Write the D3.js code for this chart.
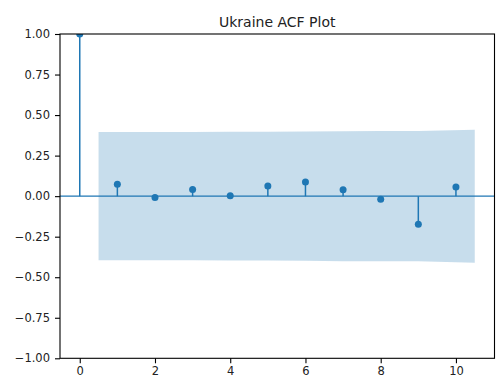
<!DOCTYPE html>
<html>
<head>
<meta charset="utf-8">
<script src="https://cdn.jsdelivr.net/npm/d3@7"></script>
<style>
  html, body { margin: 0; padding: 0; background: #fff; }
  svg { display: block; font-family: "DejaVu Sans", sans-serif; }
</style>
</head>
<body>
<svg id="chart" width="497" height="376"></svg>
<script>
// Autocorrelation by lag
const lags = [0, 1, 2, 3, 4, 5, 6, 7, 8, 9, 10];
const acfValues = [1.0, 0.074, -0.008, 0.041, 0.002, 0.062, 0.088, 0.039, -0.019, -0.173, 0.056];
// 95% confidence half-width for lags 1..10
const confLags = [1, 2, 3, 4, 5, 6, 7, 8, 9, 10];
const confHalfWidth = [0.395, 0.396, 0.396, 0.397, 0.397, 0.398, 0.401, 0.402, 0.402, 0.410];
const yTicks = [-1.0, -0.75, -0.5, -0.25, 0.0, 0.25, 0.5, 0.75, 1.0];
const xTicks = [0, 2, 4, 6, 8, 10];
const title = "Ukraine ACF Plot";

const C0 = "#1f77b4";
const svg = d3.select("#chart");
const plot = { left: 60, right: 494.5, top: 34, bottom: 358.3 };

const x = d3.scaleLinear().domain([-0.525, 11.025]).range([plot.left, plot.right]);
const y = d3.scaleLinear().domain([-1, 1]).range([plot.bottom, plot.top]);

svg.append("defs").append("clipPath").attr("id", "plot-clip")
  .append("rect")
  .attr("x", plot.left).attr("y", plot.top)
  .attr("width", plot.right - plot.left).attr("height", plot.bottom - plot.top);

const g = svg.append("g").attr("clip-path", "url(#plot-clip)");

// stems
g.selectAll("line.stem").data(lags).join("line")
  .attr("class", "stem")
  .attr("x1", d => x(d)).attr("x2", d => x(d))
  .attr("y1", y(0)).attr("y2", (d, i) => y(acfValues[i]))
  .attr("stroke", C0).attr("stroke-width", 1.5);

// zero line
g.append("line")
  .attr("x1", plot.left).attr("x2", plot.right)
  .attr("y1", y(0)).attr("y2", y(0))
  .attr("stroke", C0).attr("stroke-width", 1.4);

// markers
g.selectAll("circle.pt").data(lags).join("circle")
  .attr("class", "pt")
  .attr("cx", d => x(d)).attr("cy", (d, i) => y(acfValues[i]))
  .attr("r", 3.5).attr("fill", C0);

// confidence band, edges stretched by half a lag on both ends
const bandX = confLags.map((l, i) => i === 0 ? l - 0.5 : (i === confLags.length - 1 ? l + 0.5 : l));
const band = d3.area()
  .x((d, i) => x(bandX[i]))
  .y0(d => y(-d))
  .y1(d => y(d));
g.append("path")
  .datum(confHalfWidth)
  .attr("d", band)
  .attr("fill", C0).attr("fill-opacity", 0.25);

// axes
const yAxis = d3.axisLeft(y).tickValues(yTicks).tickFormat(d3.format(".2f")).tickSize(5).tickPadding(5);
const xAxis = d3.axisBottom(x).tickValues(xTicks).tickFormat(d3.format("d")).tickSize(5).tickPadding(4);

const ya = svg.append("g").attr("transform", `translate(${plot.left},0)`).call(yAxis);
const xa = svg.append("g").attr("transform", `translate(0,${plot.bottom})`).call(xAxis);
[ya, xa].forEach(a => {
  a.select(".domain").remove();
  a.selectAll(".tick line").attr("stroke", "#000").attr("stroke-width", 1.1);
  a.selectAll(".tick text").attr("fill", "#222").style("font-size", "11.5px").style("font-family", "DejaVu Sans, sans-serif");
});

// frame
svg.append("rect")
  .attr("x", plot.left).attr("y", plot.top)
  .attr("width", plot.right - plot.left).attr("height", plot.bottom - plot.top)
  .attr("fill", "none").attr("stroke", "#000").attr("stroke-width", 1.1);

// title
svg.append("text")
  .attr("x", (plot.left + plot.right) / 2).attr("y", 26.5)
  .attr("text-anchor", "middle")
  .style("font-size", "14px")
  .attr("fill", "#222")
  .text(title);
</script>
</body>
</html>
